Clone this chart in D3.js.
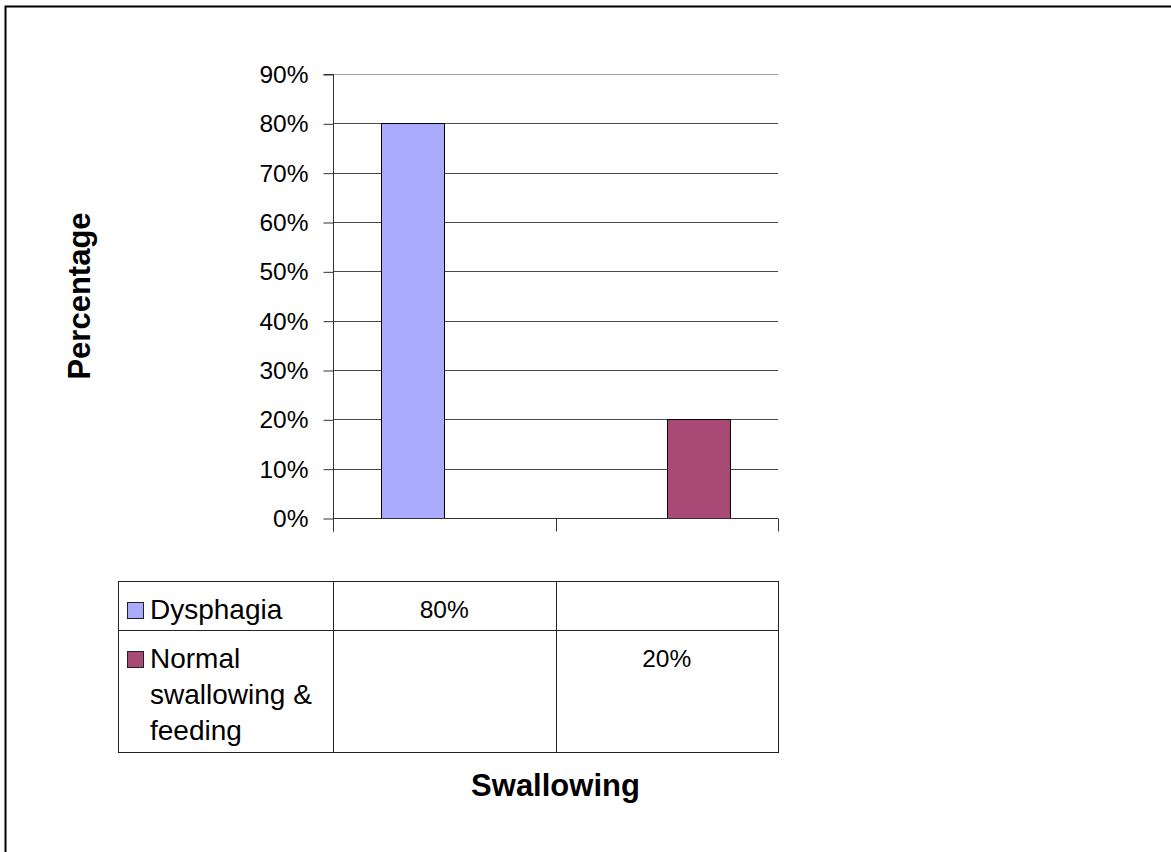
<!DOCTYPE html>
<html>
<head>
<meta charset="utf-8">
<script src="https://cdn.jsdelivr.net/npm/d3@7"></script>
<style>
  html, body { margin: 0; padding: 0; background: #fff; }
  svg { display: block; font-family: "Liberation Sans", Arial, sans-serif; }
</style>
</head>
<body>
<svg id="chart" width="1171" height="852"></svg>
<script>
// ---- data ----
const categories = ["c1", "c2"];               // x categories (no labels shown)
const seriesNames = ["Dysphagia", "Normal swallowing & feeding"];
const seriesLegendLines = [["Dysphagia"], ["Normal", "swallowing &", "feeding"]];
const dysphagia = [0.80, null];
const normalSwallowing = [null, 0.20];
const seriesColors = ["#aaaaff", "#a94a76"];
const yTicks = [0, 0.1, 0.2, 0.3, 0.4, 0.5, 0.6, 0.7, 0.8, 0.9];
const xTitle = "Swallowing";
const yTitle = "Percentage";

const seriesValues = [dysphagia, normalSwallowing];

const svg = d3.select("#chart");

// outer border (extends past right/bottom edge)
svg.append("rect").attr("x", 5.5).attr("y", 6.5).attr("width", 1200).attr("height", 900)
  .attr("fill", "none").attr("stroke", "#000").attr("stroke-width", 2);

const plot = { left: 333, right: 778, top: 74, bottom: 518 };

const y = d3.scaleLinear().domain([0, 0.9]).range([plot.bottom, plot.top]);
const x0 = d3.scaleBand().domain(categories).range([plot.left, plot.right]).paddingInner(0).paddingOuter(0);
const x1 = d3.scaleBand().domain(d3.range(seriesNames.length)).range([0, x0.bandwidth()])
  .paddingInner(0).paddingOuter(0.77);

// gridlines
svg.append("g").selectAll("line").data(yTicks.filter(t => t > 0)).join("line")
  .attr("x1", plot.left).attr("x2", plot.right)
  .attr("y1", d => Math.round(y(d)) + 0.5).attr("y2", d => Math.round(y(d)) + 0.5)
  .attr("stroke", (d, i, a) => i === a.length - 1 ? "#a0a0a0" : "#4a4a4a").attr("stroke-width", 1);

// bars
seriesValues.forEach((vals, si) => {
  svg.append("g").selectAll("rect").data(categories.map((c, ci) => ({ c, v: vals[ci] })).filter(d => d.v != null))
    .join("rect")
    .attr("x", d => Math.round(x0(d.c) + x1(si)) + 0.5)
    .attr("y", d => Math.round(y(d.v)) + 0.5)
    .attr("width", Math.round(x1.bandwidth()))
    .attr("height", d => Math.round(y(0)) - Math.round(y(d.v)))
    .attr("fill", seriesColors[si]).attr("stroke", "#000").attr("stroke-width", 1);
});

// y axis
const yAxis = d3.axisLeft(y).tickValues(yTicks).tickFormat(d3.format(".0%")).tickSize(10).tickPadding(15);
const gy = svg.append("g").attr("transform", `translate(${plot.left + 0.5},0.5)`).call(yAxis);
gy.select(".domain").attr("stroke", "#333").attr("d", `M-10,${plot.top}H0V${plot.bottom + 13}`);
gy.selectAll(".tick line").attr("stroke", "#333");
gy.selectAll(".tick text").attr("font-size", 24.5).attr("fill", "#000")
  .attr("font-family", "'Liberation Sans', Arial, sans-serif");

// x axis (category ticks, no labels)
const gx = svg.append("g").attr("transform", `translate(0,${Math.round(plot.bottom) + 0.5})`);
gx.append("line").attr("x1", plot.left).attr("x2", plot.right).attr("stroke", "#333");
const boundaries = [plot.left, ...categories.map(c => x0(c) + x0.bandwidth())];
gx.selectAll("line.tk").data(boundaries).join("line").attr("class", "tk")
  .attr("x1", d => Math.round(d) + 0.5).attr("x2", d => Math.round(d) + 0.5)
  .attr("y1", 0).attr("y2", 13).attr("stroke", "#333");

// data table
const table = { left: 118, top: 581, rowH: [49, 122] };
const rowTops = [table.top, table.top + table.rowH[0]];
const tableBottom = table.top + d3.sum(table.rowH);
const tg = svg.append("g");
tg.append("rect").attr("x", table.left + 0.5).attr("y", table.top + 0.5)
  .attr("width", plot.right - table.left).attr("height", tableBottom - table.top)
  .attr("fill", "none").attr("stroke", "#222");
tg.append("line").attr("x1", table.left).attr("x2", plot.right)
  .attr("y1", rowTops[1] + 0.5).attr("y2", rowTops[1] + 0.5).attr("stroke", "#222");
boundaries.slice(0, -1).forEach(b => {
  tg.append("line").attr("x1", Math.round(b) + 0.5).attr("x2", Math.round(b) + 0.5)
    .attr("y1", table.top).attr("y2", tableBottom).attr("stroke", "#222");
});

seriesNames.forEach((name, si) => {
  const top = rowTops[si];
  tg.append("rect").attr("x", 127.5).attr("y", top + 21.5).attr("width", 16).attr("height", 16)
    .attr("fill", seriesColors[si]).attr("stroke", "#222");
  const t = tg.append("text").attr("font-size", 28).attr("fill", "#000");
  seriesLegendLines[si].forEach((ln, li) => {
    t.append("tspan").attr("x", 150).attr("y", top + 38 + li * 36).text(ln);
  });
  seriesValues[si].forEach((v, ci) => {
    if (v == null) return;
    tg.append("text").attr("x", x0(categories[ci]) + x0.bandwidth() / 2).attr("y", top + 37)
      .attr("text-anchor", "middle").attr("font-size", 24.5).attr("fill", "#000")
      .text(d3.format(".0%")(v));
  });
});

// axis titles
svg.append("text").attr("x", (plot.left + plot.right) / 2).attr("y", 796)
  .attr("text-anchor", "middle").attr("font-weight", "bold").attr("font-size", 31).text(xTitle);
svg.append("text").attr("transform", `translate(90,${(plot.top + plot.bottom) / 2}) rotate(-90)`)
  .attr("text-anchor", "middle").attr("font-weight", "bold").attr("font-size", 31).text(yTitle);
</script>
</body>
</html>
